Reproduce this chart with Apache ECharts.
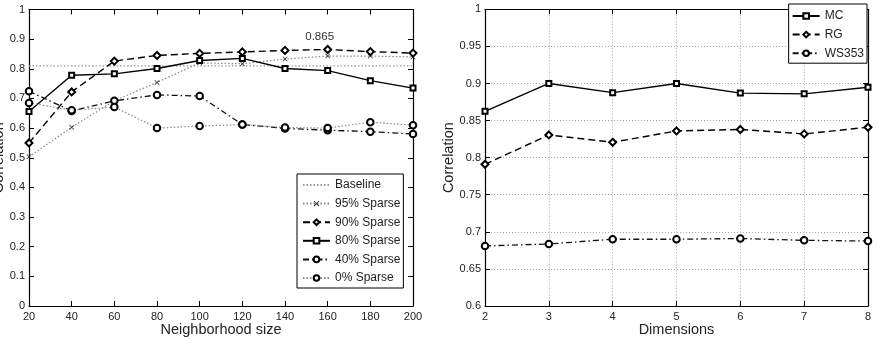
<!DOCTYPE html>
<html><head><meta charset="utf-8">
<script src="https://cdn.jsdelivr.net/npm/echarts@6/dist/echarts.min.js"></script>
<style>html,body{margin:0;padding:0;background:#fff}#c{width:877px;height:340px}</style>
</head><body><div id="c"></div>
<script>
// ---- data ----
const neighborhood = [20, 40, 60, 80, 100, 120, 140, 160, 180, 200];
const baseline  = [0.81, 0.81, 0.81, 0.81, 0.81, 0.81, 0.81, 0.81, 0.81, 0.81];
const sparse95  = [0.503, 0.603, 0.692, 0.754, 0.820, 0.817, 0.833, 0.843, 0.843, 0.840];
const sparse90  = [0.550, 0.722, 0.826, 0.845, 0.852, 0.857, 0.862, 0.865, 0.858, 0.853];
const sparse80  = [0.656, 0.778, 0.783, 0.801, 0.828, 0.835, 0.801, 0.794, 0.760, 0.735];
const sparse40  = [0.724, 0.658, 0.692, 0.712, 0.708, 0.612, 0.599, 0.593, 0.588, 0.580];
const sparse0   = [0.685, 0.660, 0.671, 0.600, 0.607, 0.612, 0.602, 0.600, 0.620, 0.610];
const leftNames = ['Baseline', '95% Sparse', '90% Sparse', '80% Sparse', '40% Sparse', '0% Sparse'];
const peakLabel = '0.865';

const dimensions = [2, 3, 4, 5, 6, 7, 8];
const mc    = [0.8625, 0.900, 0.8876, 0.900, 0.887, 0.886, 0.895];
const rg    = [0.791, 0.8306, 0.8207, 0.836, 0.838, 0.832, 0.841];
const ws353 = [0.681, 0.6836, 0.690, 0.690, 0.691, 0.6885, 0.6876];
const rightNames = ['MC', 'RG', 'WS353'];

const FONT = "'Liberation Sans', Arial, Helvetica, sans-serif";
const pair = (xs, ys) => xs.map((x, i) => [x, ys[i]]);
const xMark = 'path://M0,1L1,0L5,4L9,0L10,1L6,5L10,9L9,10L5,6L1,10L0,9L4,5Z';

function frameAxis(base, extra) {
  return Object.assign({
    type: 'value',
    nameMoveOverlap: false,
    axisLine: { show: true, onZero: false, lineStyle: { color: '#000', width: 1.2 } },
    axisTick: { show: true, inside: true, length: 5, lineStyle: { color: '#000', width: 1 } },
    axisLabel: { show: true, color: '#222', fontSize: 11, fontFamily: FONT, margin: 4 },
    splitLine: { show: false }
  }, base, extra);
}
const xLabel = { show: true, color: '#222', fontSize: 11, fontFamily: FONT, margin: 5 };

const chart = echarts.init(document.getElementById('c'), null, { renderer: 'canvas' });

const data90 = pair(neighborhood, sparse90).map((p, i) =>
  i === 7 ? { value: p, label: { show: true, formatter: peakLabel, position: 'top', offset: [-8, 3],
    fontSize: 11.5, color: '#333', fontFamily: FONT } } : p);

const gridDot = { show: true, lineStyle: { color: '#aaa', type: [1, 2], width: 1 } };

const legendLeftData = leftNames.map((n, i) => i === 0 ? { name: n, itemStyle: { opacity: 0 } } : n);

chart.setOption({
  animation: false,
  textStyle: { fontFamily: FONT },
  grid: [
    { left: 29, right: 464, top: 9.5, bottom: 34, outerBoundsMode: 'none', containLabel: false },
    { left: 485, right: 9, top: 9.3, bottom: 34, outerBoundsMode: 'none', containLabel: false }
  ],
  xAxis: [
    frameAxis({ gridIndex: 0, min: 20, max: 200, interval: 20, position: 'bottom', axisLabel: xLabel,
      name: 'Neighborhood size', nameLocation: 'middle', nameGap: 16,
      nameTextStyle: { fontSize: 14.5, color: '#222', fontFamily: FONT } }),
    frameAxis({ gridIndex: 0, min: 20, max: 200, interval: 20, position: 'top' }, { axisLabel: { show: false } }),
    frameAxis({ gridIndex: 1, min: 2, max: 8, interval: 1, position: 'bottom', axisLabel: xLabel,
      name: 'Dimensions', nameLocation: 'middle', nameGap: 16,
      nameTextStyle: { fontSize: 14.5, color: '#222', fontFamily: FONT }, splitLine: gridDot }),
    frameAxis({ gridIndex: 1, min: 2, max: 8, interval: 1, position: 'top' }, { axisLabel: { show: false } })
  ],
  yAxis: [
    frameAxis({ gridIndex: 0, min: 0, max: 1, interval: 0.1, position: 'left',
      name: 'Correlation', nameLocation: 'middle', nameGap: 23, nameRotate: 90,
      nameTextStyle: { fontSize: 14.5, color: '#222', fontFamily: FONT } }),
    frameAxis({ gridIndex: 0, min: 0, max: 1, interval: 0.1, position: 'right' }, { axisLabel: { show: false } }),
    frameAxis({ gridIndex: 1, min: 0.6, max: 1, interval: 0.05, position: 'left',
      name: 'Correlation', nameLocation: 'middle', nameGap: 29, nameRotate: 90,
      nameTextStyle: { fontSize: 14.5, color: '#222', fontFamily: FONT }, splitLine: gridDot }),
    frameAxis({ gridIndex: 1, min: 0.6, max: 1, interval: 0.05, position: 'right' }, { axisLabel: { show: false } })
  ],
  legend: [
    { data: legendLeftData, orient: 'vertical', left: 297, top: 174,
      backgroundColor: '#fff', borderColor: '#000', borderWidth: 1, borderRadius: 0,
      padding: [5, 3, 4, 5], itemWidth: 27, itemHeight: 7, itemGap: 6.6,
      textStyle: { fontSize: 12, color: '#222', fontFamily: FONT } },
    { data: rightNames, orient: 'vertical', right: 10, top: 4,
      backgroundColor: '#fff', borderColor: '#000', borderWidth: 1, borderRadius: 0,
      padding: [6, 3, 4, 3], itemWidth: 27, itemHeight: 7, itemGap: 6.6,
      textStyle: { fontSize: 12, color: '#222', fontFamily: FONT } }
  ],
  series: [
    { name: leftNames[0], type: 'line', xAxisIndex: 0, yAxisIndex: 0, data: pair(neighborhood, baseline),
      showSymbol: false, symbol: 'none', color: '#999', lineStyle: { color: '#999', type: [1.5, 2], width: 1.2 } },
    { name: leftNames[1], type: 'line', xAxisIndex: 0, yAxisIndex: 0, data: pair(neighborhood, sparse95),
      symbol: xMark, symbolSize: 5, color: '#222', itemStyle: { color: '#222' },
      lineStyle: { color: '#888', type: [1.5, 2], width: 1.2 } },
    { name: leftNames[2], type: 'line', xAxisIndex: 0, yAxisIndex: 0, data: data90,
      symbol: 'emptyDiamond', symbolSize: 7, color: '#000', itemStyle: { borderWidth: 1.3 },
      lineStyle: { color: '#000', type: [7, 4], width: 1.4 } },
    { name: leftNames[3], type: 'line', xAxisIndex: 0, yAxisIndex: 0, data: pair(neighborhood, sparse80),
      symbol: 'emptyRect', symbolSize: 5, color: '#000', itemStyle: { borderWidth: 1.3 },
      lineStyle: { color: '#000', width: 1.4 } },
    { name: leftNames[4], type: 'line', xAxisIndex: 0, yAxisIndex: 0, data: pair(neighborhood, sparse40),
      symbol: 'emptyCircle', symbolSize: 6.5, color: '#000', itemStyle: { borderWidth: 1.5 },
      lineStyle: { color: '#111', type: [6, 3, 1.5, 3], width: 1.3 } },
    { name: leftNames[5], type: 'line', xAxisIndex: 0, yAxisIndex: 0, data: pair(neighborhood, sparse0),
      symbol: 'emptyCircle', symbolSize: 6.5, color: '#000', itemStyle: { borderWidth: 1.5 },
      lineStyle: { color: '#888', type: [1.5, 2], width: 1.2 } },

    { name: rightNames[0], type: 'line', xAxisIndex: 2, yAxisIndex: 2, data: pair(dimensions, mc),
      symbol: 'emptyRect', symbolSize: 5, color: '#000', itemStyle: { borderWidth: 1.3 },
      lineStyle: { color: '#000', width: 1.4 } },
    { name: rightNames[1], type: 'line', xAxisIndex: 2, yAxisIndex: 2, data: pair(dimensions, rg),
      symbol: 'emptyDiamond', symbolSize: 7, color: '#000', itemStyle: { borderWidth: 1.3 },
      lineStyle: { color: '#000', type: [7, 4], width: 1.4 } },
    { name: rightNames[2], type: 'line', xAxisIndex: 2, yAxisIndex: 2, data: pair(dimensions, ws353),
      symbol: 'emptyCircle', symbolSize: 6.5, color: '#000', itemStyle: { borderWidth: 1.5 },
      lineStyle: { color: '#111', type: [6, 3, 1.5, 3], width: 1.3 } }
  ]
});
</script>
</body></html>
